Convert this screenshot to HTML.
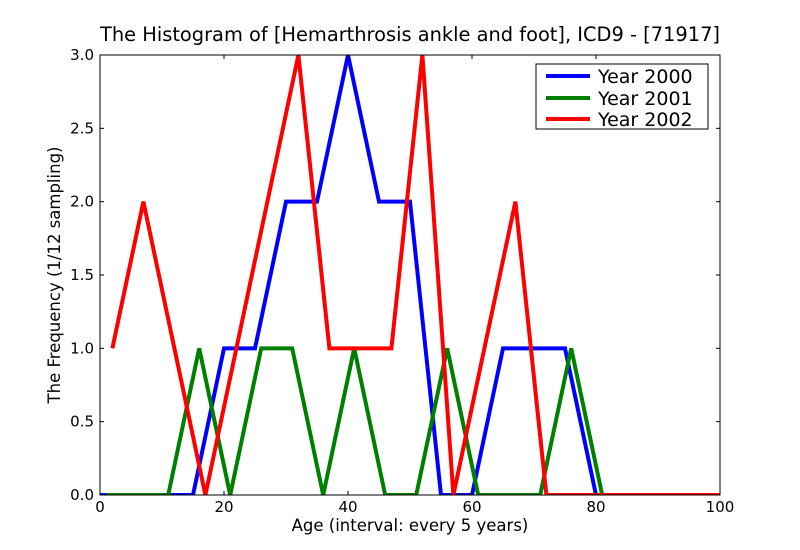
<!DOCTYPE html>
<html><head><meta charset="utf-8"><style>
body{margin:0;background:#fff;}
svg{display:block;font-family:"DejaVu Sans","Liberation Sans",sans-serif;}
</style></head><body>
<svg id="chart" width="800" height="550">
<rect x="0" y="0" width="800" height="550" fill="#fff"/>
<text x="410" y="41" font-size="19.4" text-anchor="middle">The Histogram of [Hemarthrosis ankle and foot], ICD9 - [71917]</text>
<text x="410" y="531" font-size="16.5" text-anchor="middle">Age (interval: every 5 years)</text>
<text x="60" y="275" font-size="16.5" text-anchor="middle" transform="rotate(-90 60 275)">The Frequency (1/12 sampling)</text>
<defs><clipPath id="pc"><rect x="100" y="55" width="620" height="440"/></clipPath></defs>
<g id="series" clip-path="url(#pc)"></g>
<g id="ticks"></g>
<rect x="100" y="55" width="620" height="440" fill="none" stroke="#000" stroke-width="1"/>
<g>
<rect x="536" y="64" width="172" height="65" fill="#fff" stroke="#000" stroke-width="1"/>
<line x1="546" y1="76" x2="590" y2="76" stroke="#0000ff" stroke-width="4"/>
<text x="598" y="83" font-size="19">Year 2000</text>
<line x1="546" y1="98" x2="590" y2="98" stroke="#008000" stroke-width="4"/>
<text x="598" y="105" font-size="19">Year 2001</text>
<line x1="546" y1="119" x2="590" y2="119" stroke="#ff0000" stroke-width="4"/>
<text x="598" y="126" font-size="19">Year 2002</text>
</g>
</svg>
<script>
const xTicks=[0,20,40,60,80,100];
const yTicks=[0,0.5,1.0,1.5,2.0,2.5,3.0];
const x2000=[0,5,10,15,20,25,30,35,40,45,50,55,60,65,70,75,80,85,90,95,100];
const y2000=[0,0,0,0,1,1,2,2,3,2,2,0,0,1,1,1,0,0,0,0,0];
const x2001=[1,6,11,16,21,26,31,36,41,46,51,56,61,66,71,76,81,86,91,96,101];
const y2001=[0,0,0,1,0,1,1,0,1,0,0,1,0,0,0,1,0,0,0,0,0];
const x2002=[2,7,12,17,22,27,32,37,42,47,52,57,62,67,72,77,82,87,92,97,102];
const y2002=[1,2,1,0,1,2,3,1,1,1,3,0,1,2,0,0,0,0,0,0,0];
const X=v=>100+v*6.2, Y=v=>495-v*440/3;
const NS="http://www.w3.org/2000/svg";
const sg=document.getElementById('series'), tg=document.getElementById('ticks');
function line(xs,ys,color,name){
 const p=document.createElementNS(NS,'polyline');
 p.setAttribute('points',xs.map((x,i)=>X(x)+','+Y(ys[i])).join(' '));
 p.setAttribute('fill','none');p.setAttribute('stroke',color);p.setAttribute('stroke-width','4');
 
 
 sg.appendChild(p);
}
line(x2000,y2000,'#0000ff','series-2000');
line(x2001,y2001,'#008000','series-2001');
line(x2002,y2002,'#ff0000','series-2002');
xTicks.forEach(t=>{
 const x=X(t);
 [[495,491],[55,59]].forEach(([a,b])=>{const l=document.createElementNS(NS,'line');l.setAttribute('x1',x);l.setAttribute('x2',x);l.setAttribute('y1',a);l.setAttribute('y2',b);l.setAttribute('stroke','#000');tg.appendChild(l);});
 const tx=document.createElementNS(NS,'text');tx.setAttribute('x',x);tx.setAttribute('y',512);tx.setAttribute('font-size','15');tx.setAttribute('text-anchor','middle');tx.textContent=t;
 
 
 tg.appendChild(tx);
});
yTicks.forEach(t=>{
 const y=Y(t);
 [[100,104],[720,716]].forEach(([a,b])=>{const l=document.createElementNS(NS,'line');l.setAttribute('x1',a);l.setAttribute('x2',b);l.setAttribute('y1',y);l.setAttribute('y2',y);l.setAttribute('stroke','#000');tg.appendChild(l);});
 const tx=document.createElementNS(NS,'text');tx.setAttribute('x',94);tx.setAttribute('y',y+5);tx.setAttribute('font-size','15');tx.setAttribute('text-anchor','end');tx.textContent=t.toFixed(1);
 
 
 tg.appendChild(tx);
});
</script>
</body></html>
